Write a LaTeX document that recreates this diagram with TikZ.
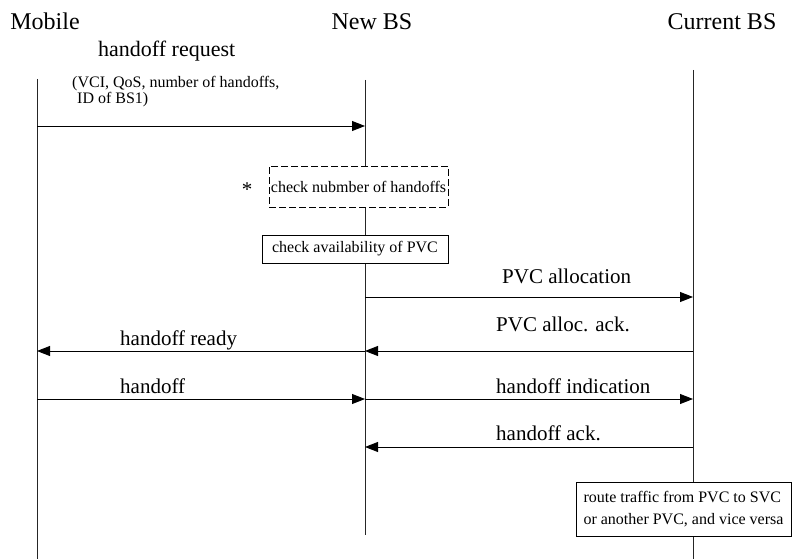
\documentclass[tikz,border=0pt]{standalone}
\usepackage{fontspec}
\setmainfont{Liberation Serif}
\usetikzlibrary{arrows.meta,positioning}

\begin{document}
\begin{tikzpicture}[x=1pt, y=-1pt, >={Triangle[length=13pt,width=10pt]}]

	\tikzset{
		head/.style = {font=\fontsize{24}{28}\selectfont, anchor=base, inner sep=0},
		lbl/.style = {font=\fontsize{21}{25}\selectfont, anchor=base west, inner sep=0},
		small/.style = {font=\fontsize{16}{16}\selectfont, anchor=base west, inner sep=0},
		lifeline/.style = {line width=0.6pt, black!85},
		msg/.style = {->, line width=0.9pt},
		box/.style = {rectangle, draw, fill=white, line width=0.6pt,
			font=\fontsize{16}{22}\selectfont, inner sep=0}
	}

	\useasboundingbox (0,0) rectangle (805,559);

	% entities
	\node[head] (mob) at (45,30) {Mobile};
	\node[head] (nbs) at (372,30) {New BS};
	\node[head] (cbs) at (722,30) {Current BS};

	\coordinate (mobtop) at (37,79);
	\coordinate (mobbot) at (37,559);
	\coordinate (nbstop) at (365,80);
	\coordinate (nbsbot) at (365,535);
	\coordinate (cbstop) at (693,70);
	\coordinate (cbsbot) at (693,559);

	\draw[lifeline] (mobtop) -- (mobbot);
	\draw[lifeline] (nbstop) -- (nbsbot);
	\draw[lifeline] (cbstop) -- (cbsbot);

	% message points on the lifelines
	\foreach \n/\y in {req/126, alloc/297, ready/351, ho/399, ack/447}{
		\coordinate (m-\n) at (37,\y);
		\coordinate (n-\n) at (365,\y);
		\coordinate (c-\n) at (693,\y);
	}

	\path[msg]
	(m-req) edge (n-req)
	(n-alloc) edge (c-alloc)
	(c-ready) edge (n-ready)
	(n-ready) edge (m-ready)
	(m-ho) edge (n-ho)
	(n-ho) edge (c-ho)
	(c-ack) edge (n-ack)
	;

	% labels
	\node[lbl, font=\fontsize{22}{26}\selectfont] (reqlbl) at (98,57) {handoff request};
	\node[small] (reqpar1) at (72,88) {(VCI, QoS, number of handoffs,};
	\node[small] (reqpar2) at (77,104) {ID of BS1)};
	\node[lbl] (alloclbl) at (502,283) {PVC allocation};
	\node[lbl] (acklbl1) at (496,331) {PVC alloc. ack.};
	\node[lbl] (readylbl) at (120,345) {handoff ready};
	\node[lbl] (holbl) at (120,393) {handoff};
	\node[lbl] (indlbl) at (496,393) {handoff indication};
	\node[lbl] (acklbl2) at (496,440) {handoff ack.};

	% actions
	\node[box, dashed, dash pattern=on 7pt off 3pt, minimum width=179, minimum height=41]
		(chk) at (358.5,186.5) {check nubmber of handoffs};
	\node[small, anchor=center, font=\fontsize{21}{21}\selectfont] (star) at (247,190) {*};
	\node[box, minimum width=186, minimum height=28] (pvc) at (355,249) {check availability of PVC};
	\node[box, align=left, minimum width=215, minimum height=54]
		(route) at (683.5,509) {route traffic from PVC to SVC\\or another PVC, and vice versa};

\end{tikzpicture}
\end{document}
